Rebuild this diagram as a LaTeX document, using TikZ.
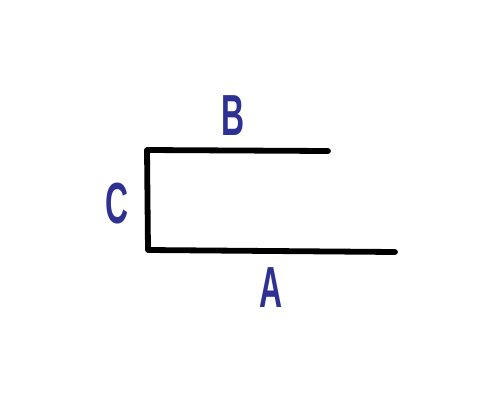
\documentclass[tikz,border=0pt]{standalone}
\usepackage{fontspec}
\setmainfont{Liberation Sans}
\usepackage{tikz}
\definecolor{labelblue}{HTML}{2E3192}

\begin{document}
\begin{tikzpicture}[x=0.02cm, y=-0.02cm, side/.style={line width=3.3pt, line cap=round, line join=round}, lbl/.style={text=labelblue, font=\fontsize{33}{33}\selectfont\bfseries, xscale=0.55, transform shape, inner sep=0pt}]
  \useasboundingbox (0,0) rectangle (500,400);
  \coordinate (topend) at (328,151);
  \coordinate (corner1) at (147,150);
  \coordinate (corner2) at (148,250);
  \coordinate (botend) at (395,252);
  \draw[side] (topend) -- (corner1) -- (corner2) -- (botend);
  \node[lbl] (labB) at (233,116) {B};
  \node[lbl] (labC) at (117,204) {C};
  \node[lbl] (labA) at (271,288) {A};
\end{tikzpicture}
\end{document}
